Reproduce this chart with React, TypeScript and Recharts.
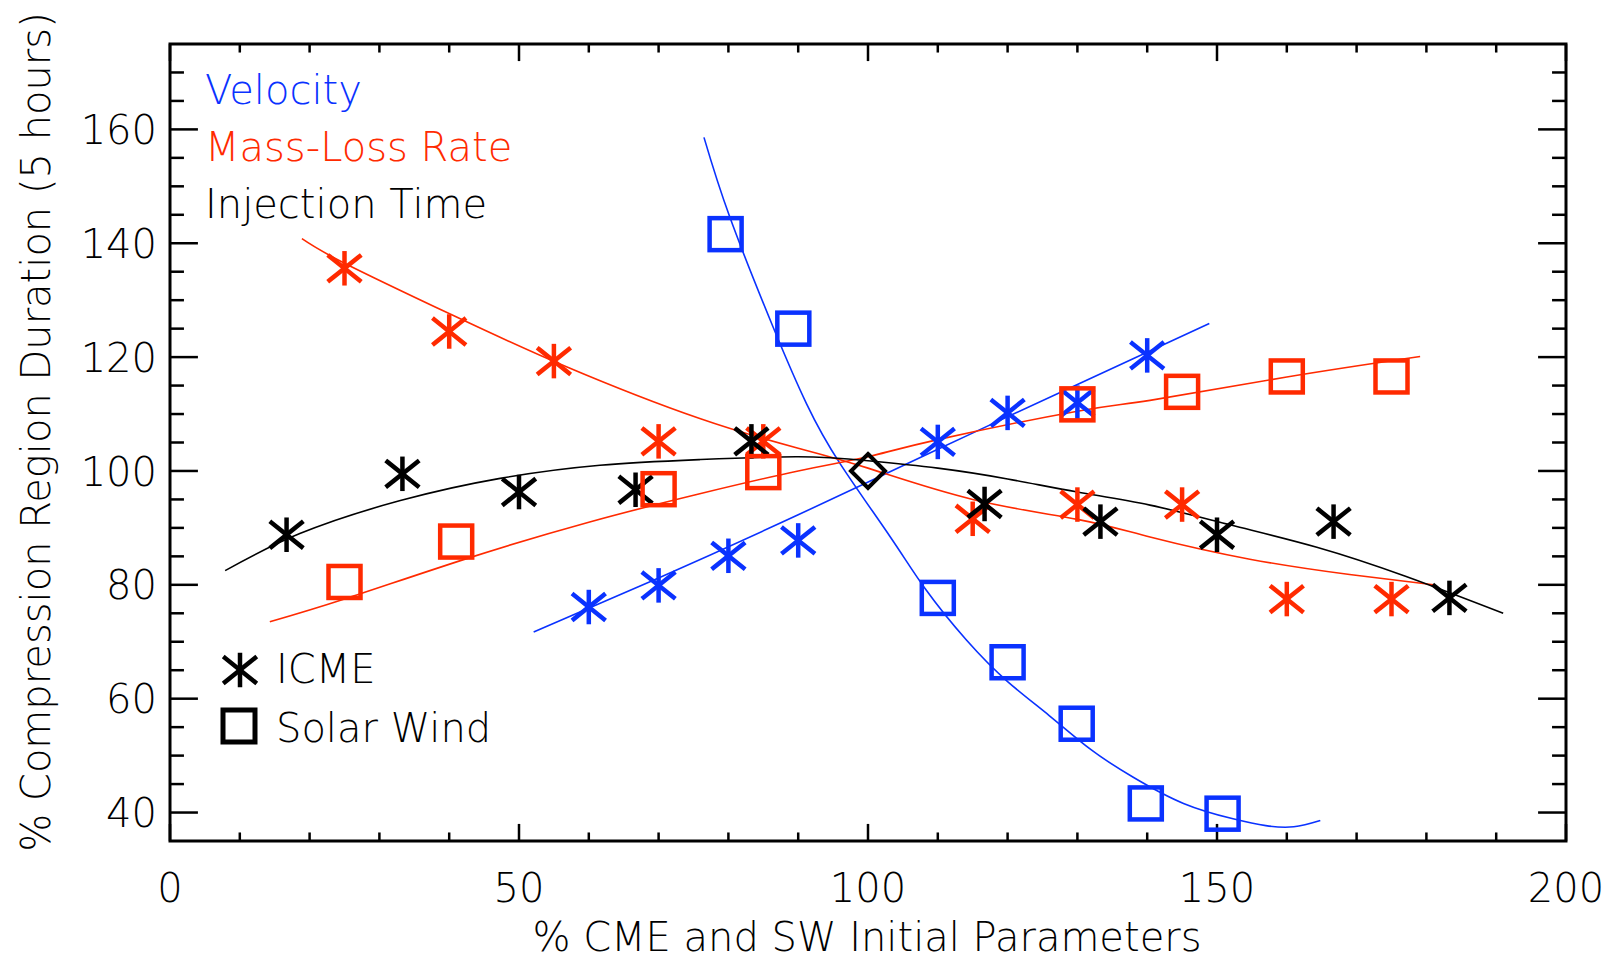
import { ComposedChart, Line, Scatter, XAxis, YAxis, ReferenceLine, ReferenceArea } from "recharts";

const BLUE = "#0a32ff";
const RED = "#ff2a00";
const FONT = "'DejaVu Sans', sans-serif";

// ICME (asterisks)
const icmeVelX = [60, 70, 80, 90, 110, 120, 130, 140];
const icmeVelY = [76.1, 79.9, 85.1, 87.8, 105.1, 110.2, 112.0, 120.3];
const icmeMassX = [25, 40, 55, 70, 85, 115, 130, 145, 160, 175];
const icmeMassY = [135.6, 124.5, 119.3, 105.2, 105.2, 91.6, 94.1, 94.1, 77.5, 77.5];
const icmeInjX = [16.7, 33.3, 50, 66.7, 83.3, 116.7, 133.3, 150, 166.7, 183.3];
const icmeInjY = [88.8, 99.5, 96.3, 96.7, 105.2, 94.2, 91.1, 88.8, 91.1, 77.7];

// Solar wind (squares)
const swVelX = [79.6, 89.3, 110, 120, 129.9, 139.8, 150.8];
const swVelY = [141.6, 125.0, 77.7, 66.4, 55.6, 41.6, 39.8];
const swMassX = [25, 41, 70, 85, 130, 145, 160, 175];
const swMassY = [80.5, 87.6, 96.8, 99.8, 111.7, 113.9, 116.6, 116.6];

// reference point
const refX = [100];
const refY = [100];

// fit curves
const fitIcmeVelX = [52.1, 70, 90, 110, 130, 148.9];
const fitIcmeVelY = [71.7, 81.2, 92.3, 103.8, 115.2, 125.9];
const fitSwVelX = [76.5, 80.2, 86.4, 91.2, 96, 103.2, 108.2, 114.1, 120, 126, 132, 138, 145.2, 152.3, 157, 161, 164.8];
const fitSwVelY = [158.6, 144.6, 125.3, 111.8, 101.3, 88.4, 79.3, 70.3, 63, 57, 51, 46.2, 41.6, 38.9, 37.7, 37.5, 38.6];
const fitIcmeMassX = [18.9, 25, 40.6, 56.8, 75.9, 90, 100, 115, 130, 140.4, 154.7, 169, 181];
const fitIcmeMassY = [140.8, 136.5, 127.3, 118.3, 109.2, 104, 100.5, 95, 91.5, 88.4, 84.5, 81.8, 80];
const fitSwMassX = [14.3, 25, 42.5, 60, 75.9, 90, 100, 110, 130, 140.4, 160, 179.1];
const fitSwMassY = [73.5, 77.5, 84.6, 91, 96, 100, 102.5, 105.5, 110.5, 112.4, 116.5, 120.1];
const fitInjX = [7.9, 18.6, 33, 47.3, 61.6, 75.9, 90, 100, 110, 120, 130, 140.4, 152, 164.3, 177, 191];
const fitInjY = [82.5, 89, 94.8, 98.7, 101, 102, 102.5, 101.8, 100.5, 98.6, 96.3, 94, 90.5, 86.6, 81.5, 75];

const xMajor = [0, 50, 100, 150, 200];
const xMinor = [10, 20, 30, 40, 60, 70, 80, 90, 110, 120, 130, 140, 160, 170, 180, 190];
const yMajor = [40, 60, 80, 100, 120, 140, 160];
const yMinor = [45, 50, 55, 65, 70, 75, 85, 90, 95, 105, 110, 115, 125, 130, 135, 145, 150, 155, 165, 170];

const pts = (xs: number[], ys: number[]) => xs.map((x, i) => ({ x, y: ys[i] }));

function Asterisk({ cx, cy, color }: { cx: number; cy: number; color: string }) {
  return (
    <g stroke={color} strokeWidth={4.5} strokeLinecap="square">
      <line x1={cx} y1={cy - 15} x2={cx} y2={cy + 15} />
      <line x1={cx - 15} y1={cy - 12} x2={cx + 15} y2={cy + 12} />
      <line x1={cx - 15} y1={cy + 12} x2={cx + 15} y2={cy - 12} />
    </g>
  );
}

function Square({ cx, cy, color }: { cx: number; cy: number; color: string }) {
  return <rect x={cx - 16} y={cy - 16} width={32} height={32} fill="none" stroke={color} strokeWidth={4.5} />;
}

function Diamond({ cx, cy }: { cx: number; cy: number }) {
  return (
    <path
      d={`M${cx},${cy - 17}L${cx + 17},${cy}L${cx},${cy + 17}L${cx - 17},${cy}Z`}
      fill="none"
      stroke="#000"
      strokeWidth={4}
    />
  );
}

const textStyle = { fontFamily: FONT, fontSize: 40, fontWeight: 200 } as const;

export default function App() {
  const fits = [
    { xs: fitIcmeVelX, ys: fitIcmeVelY, c: BLUE },
    { xs: fitSwVelX, ys: fitSwVelY, c: BLUE },
    { xs: fitIcmeMassX, ys: fitIcmeMassY, c: RED },
    { xs: fitSwMassX, ys: fitSwMassY, c: RED },
    { xs: fitInjX, ys: fitInjY, c: "#000" },
  ];
  const stars = [
    { xs: icmeVelX, ys: icmeVelY, c: BLUE },
    { xs: icmeMassX, ys: icmeMassY, c: RED },
    { xs: icmeInjX, ys: icmeInjY, c: "#000" },
  ];
  const boxes = [
    { xs: swVelX, ys: swVelY, c: BLUE },
    { xs: swMassX, ys: swMassY, c: RED },
  ];

  return (
    <div style={{ position: "absolute", left: 0, top: 0, width: 1610, height: 961, background: "#fff" }}>
      <ComposedChart width={1610} height={961} margin={{ top: 44, right: 44, bottom: 40, left: 70 }}>
        <XAxis
          type="number"
          dataKey="x"
          domain={[0, 200]}
          ticks={xMajor}
          allowDataOverflow
          axisLine={false}
          tickLine={false}
          tickSize={0}
          tickMargin={0}
          height={80}
          tick={(p: any) => (
            <text x={p.x} y={p.y + 60.6} textAnchor="middle" fill="#000" style={textStyle}>
              {p.payload.value}
            </text>
          )}
        />
        <YAxis
          type="number"
          dataKey="y"
          domain={[35, 175]}
          ticks={yMajor}
          allowDataOverflow
          axisLine={false}
          tickLine={false}
          tickSize={0}
          tickMargin={0}
          width={100}
          tick={(p: any) => (
            <text x={p.x - 13} y={p.y + 14.6} textAnchor="end" fill="#000" style={textStyle}>
              {p.payload.value}
            </text>
          )}
        />

        {xMajor.concat(xMinor).map((v) => {
          const len = xMajor.includes(v) ? 3 : 1.5;
          return [
            <ReferenceLine key={`xb${v}`} segment={[{ x: v, y: 35 }, { x: v, y: 35 + len }]} stroke="#000" strokeWidth={2.5} ifOverflow="visible" />,
            <ReferenceLine key={`xt${v}`} segment={[{ x: v, y: 175 }, { x: v, y: 175 - len }]} stroke="#000" strokeWidth={2.5} ifOverflow="visible" />,
          ];
        })}
        {yMajor.concat(yMinor).map((v) => {
          const len = yMajor.includes(v) ? 4 : 2;
          return [
            <ReferenceLine key={`yl${v}`} segment={[{ x: 0, y: v }, { x: len, y: v }]} stroke="#000" strokeWidth={2.5} ifOverflow="visible" />,
            <ReferenceLine key={`yr${v}`} segment={[{ x: 200, y: v }, { x: 200 - len, y: v }]} stroke="#000" strokeWidth={2.5} ifOverflow="visible" />,
          ];
        })}
        <ReferenceArea x1={0} x2={200} y1={35} y2={175} fill="none" stroke="#000" strokeWidth={3} ifOverflow="visible" />

        {fits.map((f, i) => (
          <Line
            key={`fit${i}`}
            data={pts(f.xs, f.ys)}
            dataKey="y"
            type="natural"
            stroke={f.c}
            strokeWidth={1.6}
            dot={false}
            activeDot={false}
            isAnimationActive={false}
          />
        ))}
        {stars.map((s, i) => (
          <Scatter
            key={`star${i}`}
            data={pts(s.xs, s.ys)}
            dataKey="y"
            isAnimationActive={false}
            shape={(p: any) => <Asterisk cx={p.cx} cy={p.cy} color={s.c} />}
          />
        ))}
        {boxes.map((s, i) => (
          <Scatter
            key={`box${i}`}
            data={pts(s.xs, s.ys)}
            dataKey="y"
            isAnimationActive={false}
            shape={(p: any) => <Square cx={p.cx} cy={p.cy} color={s.c} />}
          />
        ))}
        <Scatter
          data={pts(refX, refY)}
          dataKey="y"
          isAnimationActive={false}
          shape={(p: any) => <Diamond cx={p.cx} cy={p.cy} />}
        />
      </ComposedChart>

      <svg width={1610} height={961} style={{ position: "absolute", left: 0, top: 0, pointerEvents: "none" }}>
        <text x={205} y={104} fill={BLUE} style={textStyle}>Velocity</text>
        <text x={205} y={161} fill={RED} style={textStyle}>Mass-Loss Rate</text>
        <text x={205} y={218} fill="#000" style={textStyle}>Injection Time</text>

        <Asterisk cx={240} cy={670} color="#000" />
        <text x={276} y={683} fill="#000" style={textStyle}>ICME</text>
        <rect x={223} y={710} width={32} height={32} fill="none" stroke="#000" strokeWidth={5} />
        <text x={276} y={742} fill="#000" style={textStyle}>Solar Wind</text>

        <text x={867} y={951} textAnchor="middle" fill="#000" style={textStyle}>
          % CME and SW Initial Parameters
        </text>
        <text x={50} y={432} textAnchor="middle" transform="rotate(-90 50 432)" fill="#000" style={textStyle}>
          % Compression Region Duration (5 hours)
        </text>
      </svg>
    </div>
  );
}
